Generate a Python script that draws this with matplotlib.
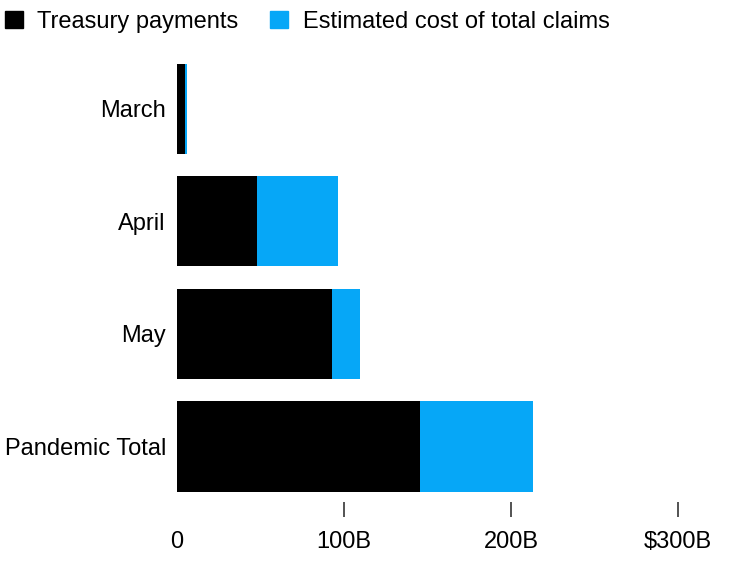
import matplotlib
matplotlib.use("Agg")
import matplotlib.pyplot as plt
from matplotlib.patches import Patch

plt.rcParams["font.family"] = ["Liberation Sans", "DejaVu Sans"]

periods = ["March", "April", "May", "Pandemic Total"]
treasury_payments = [5, 48, 93, 145.5]
estimated_cost = [6, 96.5, 109.5, 213]
x_ticks = [0, 100, 200, 300]
x_tick_labels = ["0", "100B", "200B", "$300B"]

black = "#000000"
blue = "#06a7f7"

fig = plt.figure(figsize=(7.38, 5.72), dpi=100)
ax = fig.add_axes([177 / 738, 70 / 572, 551 / 738, 461 / 572])

pos = list(range(len(periods)))
ax.barh(pos, estimated_cost, height=0.8, color=blue)
ax.barh(pos, treasury_payments, height=0.8, color=black)

ax.set_xlim(0, 330)
ax.set_ylim(3.4925, -0.6)

ax.set_yticks(pos)
ax.set_yticklabels(periods, fontsize=17)
ax.set_xticks(x_ticks)
ax.set_xticklabels(x_tick_labels, fontsize=17)
ax.tick_params(axis="y", length=0, pad=8)
ax.tick_params(axis="x", length=11, width=1.3, color="#444444", pad=10)
# the 0 tick has no mark in the original
ax.xaxis.get_major_ticks()[0].tick1line.set_visible(False)

for s in ax.spines.values():
    s.set_visible(False)

handles = [Patch(color=black, label="Treasury payments"),
           Patch(color=blue, label="Estimated cost of total claims")]
fig.legend(handles=handles, loc="upper left", bbox_to_anchor=(5 / 738, 1 - 11 / 572),
           ncol=2, frameon=False, fontsize=17, handlelength=0.75,
           handleheight=0.75, handletextpad=0.62, columnspacing=1.35,
           borderpad=0, borderaxespad=0)

fig.savefig("out.png", dpi=100)
